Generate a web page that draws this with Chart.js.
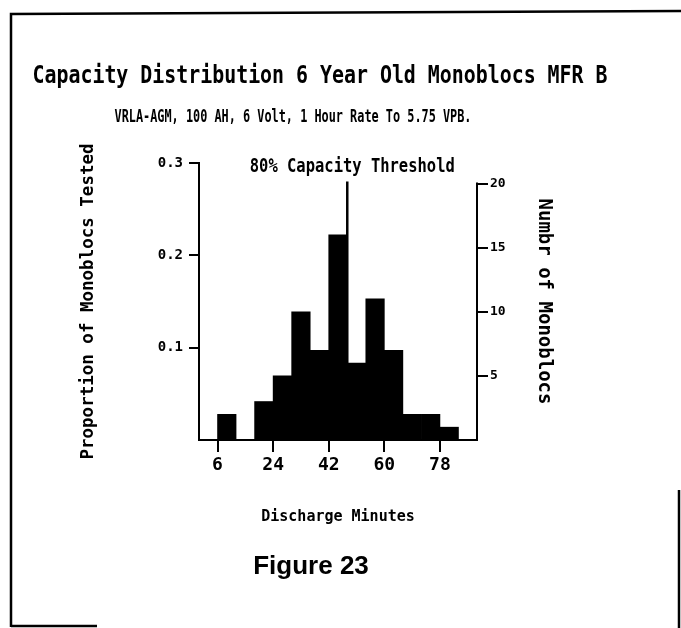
<!DOCTYPE html>
<html><head><meta charset="utf-8">
<script src="https://cdn.jsdelivr.net/npm/chart.js@4/dist/chart.umd.min.js"></script>
<style>html,body{margin:0;padding:0;background:#fff}#wrap{width:681px;height:628px;position:relative}</style>
</head><body><div id="wrap"><canvas id="c" width="681" height="628"></canvas></div>
<script>
const TITLE = 'Capacity Distribution 6 Year Old Monoblocs MFR B';
const SUBTITLE = 'VRLA-AGM, 100 AH, 6 Volt, 1 Hour Rate To 5.75 VPB.';
const CAPTION = 'Figure 23';
const X_TITLE = 'Discharge Minutes';
const Y_LEFT_TITLE = 'Proportion of Monoblocs Tested';
const Y_RIGHT_TITLE = 'Numbr of Monoblocs';
const THRESHOLD_LABEL = '80% Capacity Threshold';

const BIN_STARTS = [6, 12, 18, 24, 30, 36, 42, 48, 54, 60, 66, 72, 78];
const BIN_WIDTH = 6;
const COUNTS = [2, 0, 3, 5, 10, 7, 16, 6, 11, 7, 2, 2, 1];
const X_TICKS = [6, 24, 42, 60, 78];
const Y_LEFT_TICKS = [0.1, 0.2, 0.3];
const Y_RIGHT_TICKS = [5, 10, 15, 20];
const X_RANGE = [0, 90];
const Y_MAX = 0.3;
const THRESHOLD_X = 48;
const THRESHOLD_TOP = 0.28;

const TOTAL = COUNTS.reduce((a, b) => a + b, 0);
const MONO = "'DejaVu Sans Mono', monospace";

const barData = BIN_STARTS.map((s, i) => ({ x: s + BIN_WIDTH / 2, y: COUNTS[i] / TOTAL }));
const thresholdData = [{ x: THRESHOLD_X, y: 0 }, { x: THRESHOLD_X, y: THRESHOLD_TOP }];

function narrowText(ctx, text, cx, cy, sizePx, targetWidth) {
  ctx.save();
  ctx.font = 'bold ' + sizePx + 'px ' + MONO;
  const w = ctx.measureText(text).width;
  const sx = targetWidth / w;
  ctx.translate(cx, cy);
  ctx.scale(sx, 1);
  ctx.textAlign = 'center';
  ctx.textBaseline = 'middle';
  ctx.fillText(text, 0, 0);
  ctx.restore();
}

const decor = {
  id: 'decor',
  beforeDraw(chart) {
    const { ctx } = chart;
    ctx.save();
    ctx.fillStyle = '#fff';
    ctx.fillRect(0, 0, chart.width, chart.height);
    ctx.restore();
  },
  afterDraw(chart) {
    const { ctx } = chart;
    const xs = chart.scales.x, yr = chart.scales.y2;
    ctx.save();
    ctx.strokeStyle = '#000';
    ctx.lineWidth = 2.5;
    ctx.beginPath(); ctx.moveTo(11, 627); ctx.lineTo(11, 14); ctx.lineTo(681, 11); ctx.stroke();
    ctx.beginPath(); ctx.moveTo(11, 626); ctx.lineTo(97, 626); ctx.stroke();
    ctx.beginPath(); ctx.moveTo(679, 490); ctx.lineTo(679, 628); ctx.stroke();
    ctx.lineWidth = 2;
    const rx = chart.chartArea.right;
    ctx.beginPath();
    ctx.moveTo(rx, yr.getPixelForValue(Y_RIGHT_TICKS[Y_RIGHT_TICKS.length - 1]) - 1);
    ctx.lineTo(rx, chart.chartArea.bottom);
    ctx.stroke();
    ctx.fillStyle = '#000';
    narrowText(ctx, TITLE, 320, 77, 24.5, 575);
    narrowText(ctx, SUBTITLE, 293, 117, 17.5, 357);
    narrowText(ctx, THRESHOLD_LABEL, xs.getPixelForValue(THRESHOLD_X) + 5, 167, 19, 205);
    ctx.textAlign = 'center';
    ctx.textBaseline = 'middle';
    ctx.font = "bold 26px 'Liberation Sans', Arial, sans-serif";
    ctx.fillText(CAPTION, 311, 567);
    ctx.restore();
  }
};

new Chart(document.getElementById('c'), {
  type: 'bar',
  data: {
    datasets: [
      {
        type: 'line', data: thresholdData, borderColor: '#000', borderWidth: 2.5,
        pointRadius: 0, yAxisID: 'y', xAxisID: 'x', order: 0, fill: false, tension: 0
      },
      {
        type: 'bar', data: barData, backgroundColor: '#000', borderWidth: 0,
        barPercentage: 1, categoryPercentage: 1, yAxisID: 'y', xAxisID: 'x', order: 1
      }
    ]
  },
  options: {
    responsive: false,
    animation: false,
    devicePixelRatio: 1,
    layout: { padding: { left: 60, right: 104, top: 163, bottom: 98 } },
    plugins: { legend: { display: false }, tooltip: { enabled: false }, title: { display: false } },
    scales: {
      x: {
        type: 'linear', min: X_RANGE[0], max: X_RANGE[1], offset: false,
        afterBuildTicks: s => { s.ticks = X_TICKS.map(v => ({ value: v })); },
        afterFit: s => { s.height = 90; },
        grid: { display: true, drawOnChartArea: false, drawTicks: true, tickLength: 12, color: '#000', lineWidth: 2, offset: false },
        border: { display: true, color: '#000', width: 2 },
        ticks: { color: '#000', font: { family: MONO, size: 18, weight: 'bold' }, padding: 3, maxRotation: 0, autoSkip: false },
        title: { display: true, text: X_TITLE, color: '#000', font: { family: MONO, size: 15, weight: 'bold' }, padding: { top: 0, bottom: 4 } }
      },
      y: {
        type: 'linear', position: 'left', min: 0, max: Y_MAX,
        afterBuildTicks: s => { s.ticks = Y_LEFT_TICKS.map(v => ({ value: v })); },
        afterFit: s => { s.width = 139; },
        grid: { display: true, drawOnChartArea: false, drawTicks: true, tickLength: 10, color: '#000', lineWidth: 2 },
        border: { display: true, color: '#000', width: 2 },
        ticks: { color: '#000', font: { family: MONO, size: 14, weight: 'bold' }, padding: 6, callback: v => Number(v).toFixed(1) },
        title: { display: true, text: Y_LEFT_TITLE, color: '#000', font: { family: MONO, size: 17.5, weight: 'bold' }, padding: { top: 17.5, bottom: 0 } }
      },
      y2: {
        type: 'linear', position: 'right', min: 0, max: Y_MAX * TOTAL,
        afterBuildTicks: s => { s.ticks = Y_RIGHT_TICKS.map(v => ({ value: v })); },
        afterFit: s => { s.width = 100; },
        grid: { display: true, drawOnChartArea: false, drawTicks: true, tickLength: 11, color: '#000', lineWidth: 2 },
        border: { display: false },
        ticks: { color: '#000', font: { family: MONO, size: 13, weight: 'bold' }, padding: 2 },
        title: { display: true, text: Y_RIGHT_TITLE, color: '#000', font: { family: MONO, size: 19, weight: 'bold' }, padding: { top: 21.6, bottom: 0 } }
      }
    }
  },
  plugins: [decor]
});
</script>
</body></html>
